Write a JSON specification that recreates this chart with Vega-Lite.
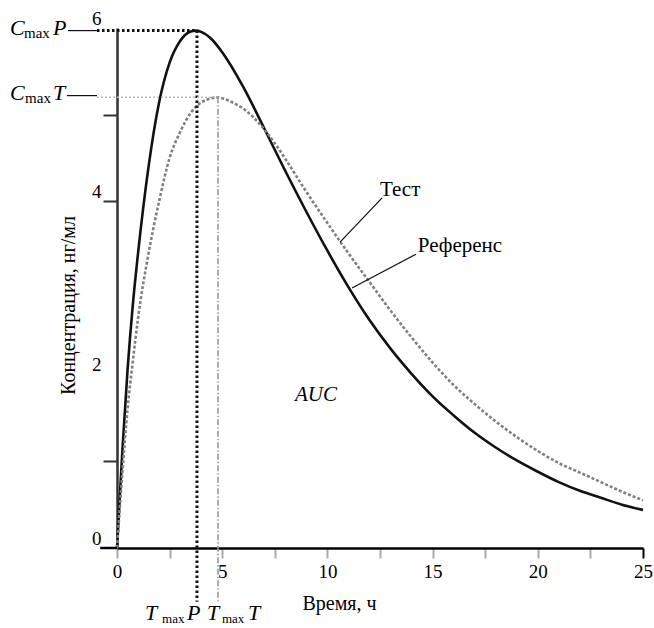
{
  "$schema": "https://vega.github.io/schema/vega-lite/v6.json",
  "width": 526,
  "height": 520,
  "autosize": {"type": "none"},
  "padding": {"left": 117, "top": 28, "right": 11, "bottom": 80},
  "background": "white",
  "config": {"view": {"stroke": null}, "font": "Liberation Serif"},
  "datasets": {
    "ref": [
      {"t": 0, "c": 0}, {"t": 0.25, "c": 1.1}, {"t": 0.5, "c": 2.05}, {"t": 0.75, "c": 2.8}, {"t": 1, "c": 3.4},
      {"t": 1.5, "c": 4.4}, {"t": 2, "c": 5.14}, {"t": 2.5, "c": 5.6}, {"t": 3, "c": 5.85}, {"t": 3.5, "c": 5.96},
      {"t": 3.75, "c": 5.97}, {"t": 4, "c": 5.955}, {"t": 4.5, "c": 5.87}, {"t": 5, "c": 5.72}, {"t": 6, "c": 5.32},
      {"t": 7, "c": 4.84}, {"t": 8, "c": 4.35}, {"t": 9, "c": 3.88}, {"t": 10, "c": 3.43}, {"t": 11, "c": 3.01},
      {"t": 12, "c": 2.63}, {"t": 13, "c": 2.3}, {"t": 14, "c": 2.01}, {"t": 15, "c": 1.75}, {"t": 16, "c": 1.53},
      {"t": 17, "c": 1.33}, {"t": 18, "c": 1.16}, {"t": 19, "c": 1.01}, {"t": 20, "c": 0.88}, {"t": 21, "c": 0.76},
      {"t": 22, "c": 0.66}, {"t": 23, "c": 0.58}, {"t": 24, "c": 0.5}, {"t": 25, "c": 0.44}
    ],
    "test": [
      {"t": 0, "c": 0}, {"t": 0.25, "c": 0.85}, {"t": 0.5, "c": 1.6}, {"t": 0.75, "c": 2.15}, {"t": 1, "c": 2.65},
      {"t": 1.5, "c": 3.4}, {"t": 2, "c": 4.0}, {"t": 2.5, "c": 4.5}, {"t": 3, "c": 4.8}, {"t": 3.5, "c": 5.02},
      {"t": 4, "c": 5.14}, {"t": 4.5, "c": 5.19}, {"t": 4.75, "c": 5.2}, {"t": 5, "c": 5.19}, {"t": 5.5, "c": 5.14},
      {"t": 6, "c": 5.07}, {"t": 7, "c": 4.83}, {"t": 7.5, "c": 4.67}, {"t": 8, "c": 4.49}, {"t": 9, "c": 4.11},
      {"t": 10, "c": 3.75}, {"t": 11, "c": 3.4}, {"t": 12, "c": 3.07}, {"t": 13, "c": 2.74}, {"t": 14, "c": 2.43},
      {"t": 15, "c": 2.14}, {"t": 16, "c": 1.88}, {"t": 17, "c": 1.66}, {"t": 18, "c": 1.46}, {"t": 19, "c": 1.28},
      {"t": 20, "c": 1.12}, {"t": 21, "c": 0.98}, {"t": 22, "c": 0.87}, {"t": 23, "c": 0.76}, {"t": 24, "c": 0.65},
      {"t": 25, "c": 0.55}
    ],
    "dotP": [
      {"t": -0.95, "t2": 3.75, "c": 5.97, "c2": 5.97},
      {"t": 3.8, "t2": 3.8, "c": 5.97, "c2": -0.62}
    ],
    "lightT": [
      {"t": -0.95, "t2": 4.8, "c": 5.2, "c2": 5.2}
    ],
    "dashdotT": [
      {"t": 4.8, "t2": 4.8, "c": 5.2, "c2": -0.62}
    ],
    "leaders": [
      {"t": -2.33, "t2": -0.95, "c": 5.97, "c2": 5.97},
      {"t": -2.38, "t2": -0.95, "c": 5.22, "c2": 5.22},
      {"t": 12.6, "t2": 10.6, "c": 4.04, "c2": 3.53},
      {"t": 14.21, "t2": 11.17, "c": 3.39, "c2": 3.0}
    ],
    "axisStub": [
      {"t": -0.8, "t2": 0, "c": 0, "c2": 0}
    ],
    "bigText": [
      {"t": -5.09, "c": 5.92, "label": "C"},
      {"t": -3.04, "c": 5.92, "label": "P"},
      {"t": -5.09, "c": 5.17, "label": "C"},
      {"t": -3.04, "c": 5.17, "label": "T"},
      {"t": 1.33, "c": -0.83, "label": "T"},
      {"t": 3.33, "c": -0.83, "label": "P"},
      {"t": 4.28, "c": -0.83, "label": "T"},
      {"t": 6.23, "c": -0.83, "label": "T"}
    ],
    "smallTop": [
      {"t": -4.42, "c": 5.88, "label": "max"},
      {"t": -4.37, "c": 5.13, "label": "max"}
    ],
    "smallBottom": [
      {"t": 2.14, "c": -0.865, "label": "max"},
      {"t": 4.99, "c": -0.865, "label": "max"}
    ],
    "names": [
      {"t": 12.5, "c": 4.13, "label": "Тест"},
      {"t": 14.3, "c": 3.48, "label": "Референс"}
    ],
    "auc": [
      {"t": 9.46, "c": 1.76, "label": "AUC"}
    ]
  },
  "layer": [
    {
      "data": {"name": "ref"},
      "mark": {"type": "line", "color": "#111111", "strokeWidth": 2.6, "interpolate": "monotone"},
      "encoding": {
        "x": {
          "field": "t", "type": "quantitative",
          "scale": {"domain": [0, 25], "nice": false, "zero": false},
          "axis": {
            "values": [0, 2.5, 5, 7.5, 10, 12.5, 15, 17.5, 20, 22.5, 25],
            "format": ".1f",
            "labelExpr": "datum.value % 5 === 0 ? format(datum.value, 'd') : ''",
            "title": "Время, ч",
            "grid": false,
            "domainColor": "#000000", "domainWidth": 2.5,
            "tickSize": 10, "tickWidth": 2,
            "tickColor": {"condition": {"test": "datum.value === 25", "value": "#000000"}, "value": "#aaaaaa"},
            "labelFont": "Liberation Serif", "labelFontSize": 19, "labelColor": "#000000", "labelPadding": 4,
            "labelFlush": false, "labelOverlap": false,
            "titleFont": "Liberation Serif", "titleFontSize": 20, "titleFontWeight": "normal", "titleColor": "#000000",
            "titleX": 222, "titleY": 61, "titleAlign": "center", "titleBaseline": "alphabetic"
          }
        },
        "y": {
          "field": "c", "type": "quantitative",
          "scale": {"domain": [0, 6], "nice": false, "zero": false},
          "axis": {
            "values": [0, 1, 2, 4, 5, 6],
            "format": "d",
            "labelExpr": "datum.value === 1 || datum.value === 5 ? '' : format(datum.value, 'd')",
            "tickOpacity": {"condition": {"test": "datum.value === 1 || datum.value === 4 || datum.value === 5", "value": 1}, "value": 0},
            "tickColor": "#333333", "tickSize": 14, "tickWidth": 2,
            "domainColor": "#333333", "domainWidth": 2.5,
            "grid": false,
            "labelFont": "Liberation Serif", "labelFontSize": 19, "labelColor": "#000000",
            "labelOffset": -10, "labelPadding": 2, "labelFlush": false, "labelOverlap": false,
            "title": "Концентрация, нг/мл",
            "titleFont": "Liberation Serif", "titleFontSize": 20, "titleFontWeight": "normal", "titleColor": "#000000",
            "titleAngle": -90, "titleX": -49, "titleY": 277, "titleAlign": "center", "titleBaseline": "middle"
          }
        }
      }
    },
    {
      "data": {"name": "test"},
      "mark": {"type": "line", "color": "#808080", "strokeWidth": 2.6, "strokeDash": [3, 2], "interpolate": "monotone"},
      "encoding": {
        "x": {"field": "t", "type": "quantitative", "scale": {"domain": [0, 25]}},
        "y": {"field": "c", "type": "quantitative", "scale": {"domain": [0, 6]}}
      }
    },
    {
      "data": {"name": "dotP"},
      "mark": {"type": "rule", "color": "#111111", "strokeWidth": 3, "strokeDash": [2.5, 2.5]},
      "encoding": {
        "x": {"field": "t", "type": "quantitative", "scale": {"domain": [0, 25]}},
        "x2": {"field": "t2"},
        "y": {"field": "c", "type": "quantitative", "scale": {"domain": [0, 6]}},
        "y2": {"field": "c2"}
      }
    },
    {
      "data": {"name": "lightT"},
      "mark": {"type": "rule", "color": "#bbbbbb", "strokeWidth": 1.5, "strokeDash": [2, 2]},
      "encoding": {
        "x": {"field": "t", "type": "quantitative", "scale": {"domain": [0, 25]}},
        "x2": {"field": "t2"},
        "y": {"field": "c", "type": "quantitative", "scale": {"domain": [0, 6]}},
        "y2": {"field": "c2"}
      }
    },
    {
      "data": {"name": "dashdotT"},
      "mark": {"type": "rule", "color": "#999999", "strokeWidth": 1.6, "strokeDash": [6, 2, 1.5, 2]},
      "encoding": {
        "x": {"field": "t", "type": "quantitative", "scale": {"domain": [0, 25]}},
        "x2": {"field": "t2"},
        "y": {"field": "c", "type": "quantitative", "scale": {"domain": [0, 6]}},
        "y2": {"field": "c2"}
      }
    },
    {
      "data": {"name": "leaders"},
      "mark": {"type": "rule", "color": "#111111", "strokeWidth": 1.2},
      "encoding": {
        "x": {"field": "t", "type": "quantitative", "scale": {"domain": [0, 25]}},
        "x2": {"field": "t2"},
        "y": {"field": "c", "type": "quantitative", "scale": {"domain": [0, 6]}},
        "y2": {"field": "c2"}
      }
    },
    {
      "data": {"name": "axisStub"},
      "mark": {"type": "rule", "color": "#000000", "strokeWidth": 2.5},
      "encoding": {
        "x": {"field": "t", "type": "quantitative", "scale": {"domain": [0, 25]}},
        "x2": {"field": "t2"},
        "y": {"field": "c", "type": "quantitative", "scale": {"domain": [0, 6]}},
        "y2": {"field": "c2"}
      }
    },
    {
      "data": {"name": "bigText"},
      "mark": {"type": "text", "font": "Liberation Serif", "fontStyle": "italic", "fontSize": 22, "align": "left", "baseline": "alphabetic", "color": "#000000"},
      "encoding": {
        "x": {"field": "t", "type": "quantitative", "scale": {"domain": [0, 25]}},
        "y": {"field": "c", "type": "quantitative", "scale": {"domain": [0, 6]}},
        "text": {"field": "label"}
      }
    },
    {
      "data": {"name": "smallTop"},
      "mark": {"type": "text", "font": "Liberation Serif", "fontSize": 15, "align": "left", "baseline": "alphabetic", "color": "#000000"},
      "encoding": {
        "x": {"field": "t", "type": "quantitative", "scale": {"domain": [0, 25]}},
        "y": {"field": "c", "type": "quantitative", "scale": {"domain": [0, 6]}},
        "text": {"field": "label"}
      }
    },
    {
      "data": {"name": "smallBottom"},
      "mark": {"type": "text", "font": "Liberation Serif", "fontSize": 13, "align": "left", "baseline": "alphabetic", "color": "#000000"},
      "encoding": {
        "x": {"field": "t", "type": "quantitative", "scale": {"domain": [0, 25]}},
        "y": {"field": "c", "type": "quantitative", "scale": {"domain": [0, 6]}},
        "text": {"field": "label"}
      }
    },
    {
      "data": {"name": "names"},
      "mark": {"type": "text", "font": "Liberation Serif", "fontSize": 21, "align": "left", "baseline": "middle", "color": "#000000"},
      "encoding": {
        "x": {"field": "t", "type": "quantitative", "scale": {"domain": [0, 25]}},
        "y": {"field": "c", "type": "quantitative", "scale": {"domain": [0, 6]}},
        "text": {"field": "label"}
      }
    },
    {
      "data": {"name": "auc"},
      "mark": {"type": "text", "font": "Liberation Serif", "fontStyle": "italic", "fontSize": 21, "align": "center", "baseline": "middle", "color": "#000000"},
      "encoding": {
        "x": {"field": "t", "type": "quantitative", "scale": {"domain": [0, 25]}},
        "y": {"field": "c", "type": "quantitative", "scale": {"domain": [0, 6]}},
        "text": {"field": "label"}
      }
    }
  ]
}
